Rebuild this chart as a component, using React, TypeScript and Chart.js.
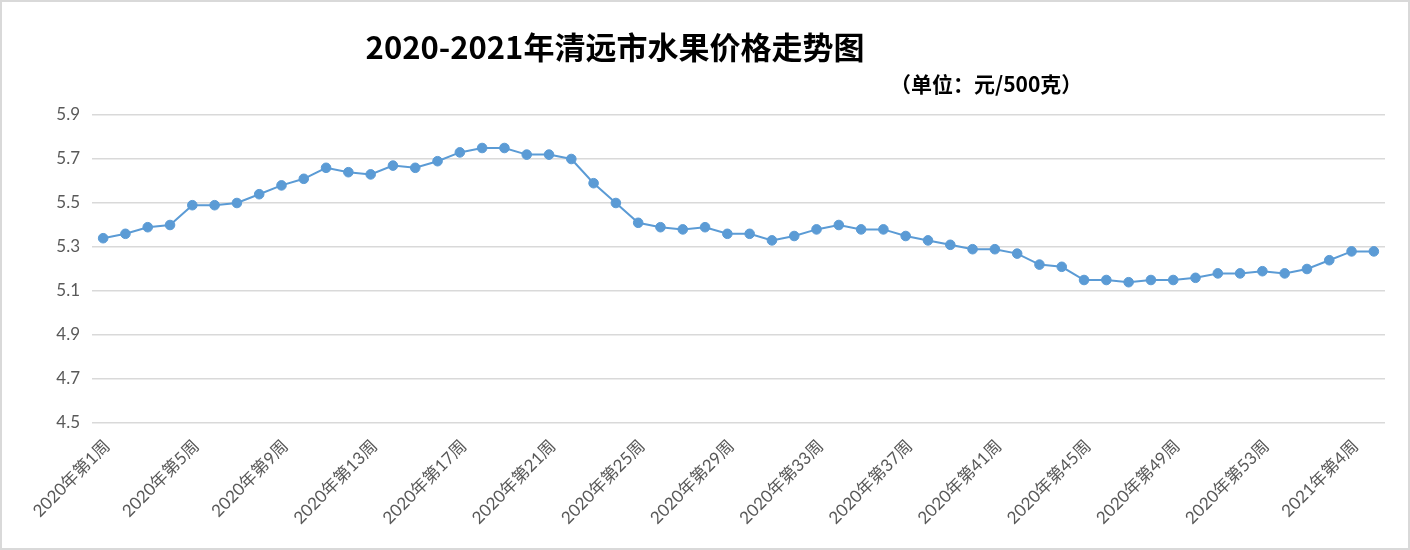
import React, { useEffect, useRef } from "react";
import { Chart, registerables } from "chart.js";

Chart.register(...registerables);

const titleText = "2020-2021年清远市水果价格走势图";
const unitText = "（单位：元/500克）";

const weekLabels = [
  "2020年第1周", "2020年第2周", "2020年第3周", "2020年第4周", "2020年第5周",
  "2020年第6周", "2020年第7周", "2020年第8周", "2020年第9周", "2020年第10周",
  "2020年第11周", "2020年第12周", "2020年第13周", "2020年第14周", "2020年第15周",
  "2020年第16周", "2020年第17周", "2020年第18周", "2020年第19周", "2020年第20周",
  "2020年第21周", "2020年第22周", "2020年第23周", "2020年第24周", "2020年第25周",
  "2020年第26周", "2020年第27周", "2020年第28周", "2020年第29周", "2020年第30周",
  "2020年第31周", "2020年第32周", "2020年第33周", "2020年第34周", "2020年第35周",
  "2020年第36周", "2020年第37周", "2020年第38周", "2020年第39周", "2020年第40周",
  "2020年第41周", "2020年第42周", "2020年第43周", "2020年第44周", "2020年第45周",
  "2020年第46周", "2020年第47周", "2020年第48周", "2020年第49周", "2020年第50周",
  "2020年第51周", "2020年第52周", "2020年第53周",
  "2021年第1周", "2021年第2周", "2021年第3周", "2021年第4周", "2021年第5周",
];

const fruitPrices = [
  5.34, 5.36, 5.39, 5.40, 5.49, 5.49, 5.50, 5.54, 5.58, 5.61,
  5.66, 5.64, 5.63, 5.67, 5.66, 5.69, 5.73, 5.75, 5.75, 5.72,
  5.72, 5.70, 5.59, 5.50, 5.41, 5.39, 5.38, 5.39, 5.36, 5.36,
  5.33, 5.35, 5.38, 5.40, 5.38, 5.38, 5.35, 5.33, 5.31, 5.29,
  5.29, 5.27, 5.22, 5.21, 5.15, 5.15, 5.14, 5.15, 5.15, 5.16,
  5.18, 5.18, 5.19, 5.18, 5.20, 5.24, 5.28, 5.28,
];

const yMin = 4.5;
const yMax = 5.9;
const yStep = 0.2;
const labelEvery = 4;

export default function App() {
  const canvasRef = useRef<HTMLCanvasElement | null>(null);

  useEffect(() => {
    const canvas = canvasRef.current;
    if (!canvas) return;
    const chart = new Chart(canvas, {
      type: "line",
      data: {
        labels: weekLabels,
        datasets: [
          {
            label: "价格",
            data: fruitPrices,
            borderColor: "#5b9bd5",
            backgroundColor: "#5b9bd5",
            borderWidth: 2,
            pointRadius: 4.8,
            pointBackgroundColor: "#5b9bd5",
            pointBorderColor: "#5b9bd5",
            pointBorderWidth: 1,
            tension: 0,
            fill: false,
          },
        ],
      },
      options: {
        responsive: false,
        animation: false,
        devicePixelRatio: 1,
        layout: { padding: { top: 115, right: 25, bottom: 17, left: 0 } },
        plugins: {
          legend: { display: false },
          title: { display: false },
          tooltip: { enabled: false },
        },
        scales: {
          x: {
            type: "category",
            offset: true,
            grid: { display: false, drawTicks: false },
            border: { display: false },
            ticks: {
              autoSkip: false,
              minRotation: 45,
              maxRotation: 45,
              padding: 13,
              labelOffset: 4,
              color: "#595959",
              font: { family: 'Lato, "Noto Sans CJK SC"', size: 17 },
              callback: (_v: any, i: number) =>
                i % labelEvery === 0 ? weekLabels[i] : null,
            },
            afterFit: (s: any) => {
              s.height = 110;
            },
          },
          y: {
            min: yMin,
            max: yMax,
            grid: { color: "#d9d9d9", lineWidth: 1.5, drawTicks: false },
            border: { display: false },
            ticks: {
              stepSize: yStep,
              padding: 12,
              color: "#595959",
              font: { family: 'Lato, "Noto Sans CJK SC"', size: 17 },
              callback: (v: any) => Number(v).toFixed(1),
            },
            afterFit: (s: any) => {
              s.width = 92;
            },
          },
        },
      },
    });
    return () => chart.destroy();
  }, []);

  return (
    <div
      style={{
        position: "fixed",
        left: 0,
        top: 0,
        width: 1410,
        height: 550,
        background: "#ffffff",
        overflow: "hidden",
      }}
    >
      <canvas
        ref={canvasRef}
        width={1410}
        height={550}
        style={{ position: "absolute", left: 0, top: 0, width: 1410, height: 550 }}
      />
      <div
        style={{
          position: "absolute",
          left: 215,
          top: 27,
          width: 800,
          textAlign: "center",
          fontFamily: '"Noto Sans CJK SC", sans-serif',
          fontWeight: 700,
          fontSize: 31,
          lineHeight: "38px",
          color: "#000000",
          whiteSpace: "nowrap",
        }}
      >
        {titleText}
      </div>
      <div
        style={{
          position: "absolute",
          left: 890,
          top: 69,
          fontFamily: '"Noto Sans CJK SC", sans-serif',
          fontWeight: 700,
          fontSize: 21,
          lineHeight: "28px",
          color: "#000000",
          whiteSpace: "nowrap",
        }}
      >
        {unitText}
      </div>
      <div
        style={{
          position: "absolute",
          left: 0,
          top: 0,
          width: 1410,
          height: 550,
          boxSizing: "border-box",
          border: "2px solid #d9d9d9",
          pointerEvents: "none",
        }}
      />
    </div>
  );
}
